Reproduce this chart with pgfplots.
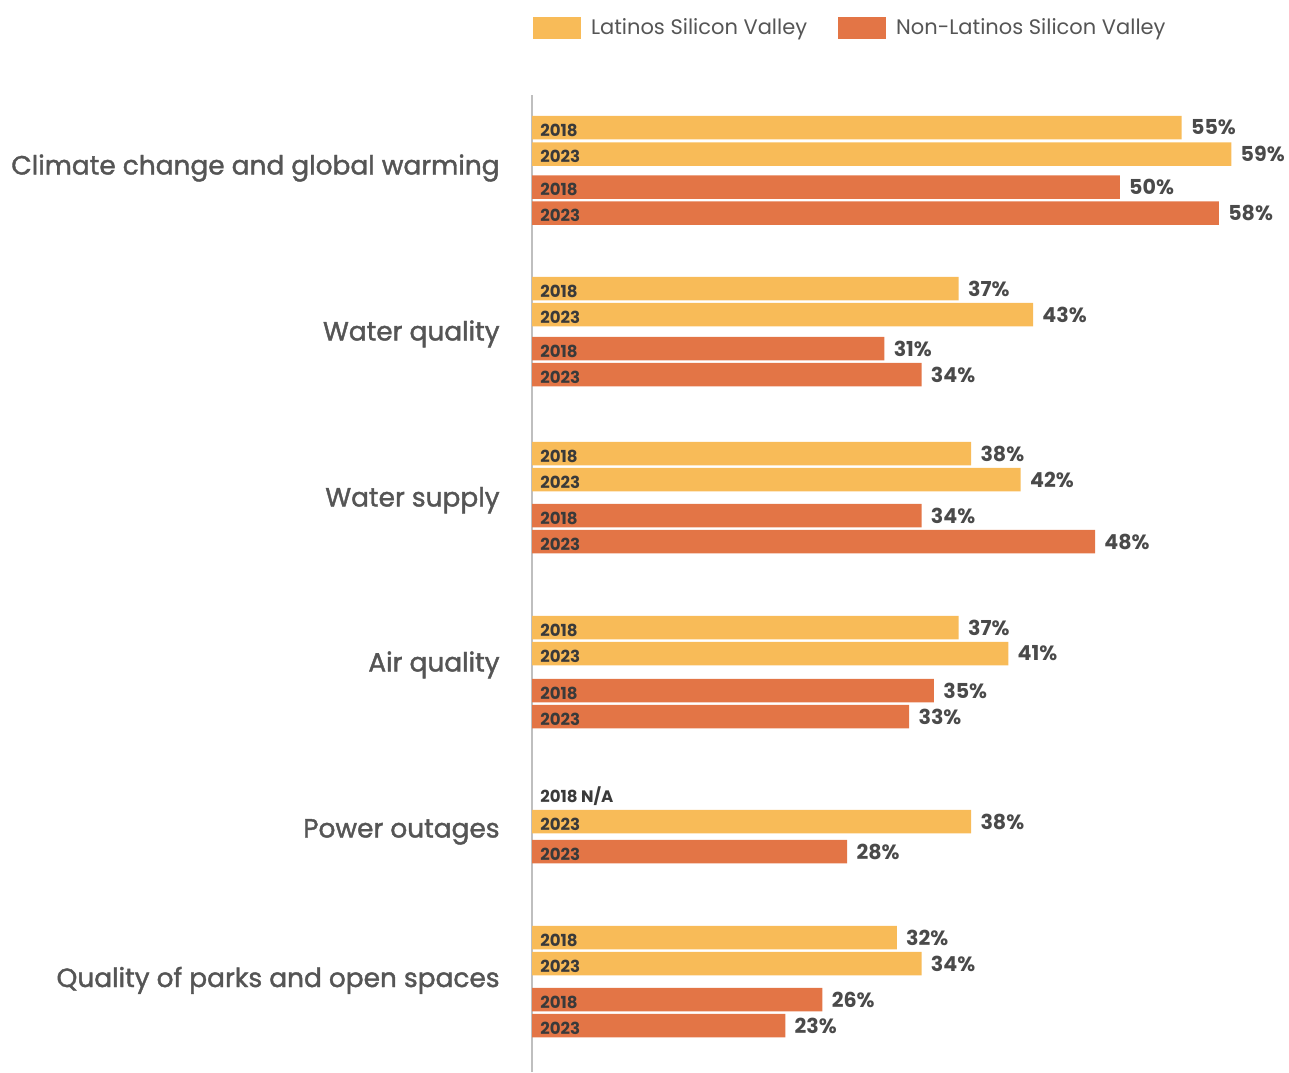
\documentclass[border=0pt]{standalone}
\usepackage{pgfplots}
\pgfplotsset{compat=1.18}
\usepackage{fontspec}
\setmainfont{Poppins}
\definecolor{lat}{HTML}{F8BB58}
\definecolor{non}{HTML}{E37546}
\definecolor{txt}{HTML}{4A4A4A}
\definecolor{yr}{HTML}{3A3A3A}
\definecolor{cat}{HTML}{555555}
\begin{document}
\begin{tikzpicture}
\begin{axis}[
 scale only axis, width=644.5pt, height=536pt,
 xmin=-42.938, xmax=61.098, ymin=0, ymax=1072, y dir=reverse,
 hide axis, clip=false,
 /pgf/number format/assume math mode=true,
 legend style={draw=none, fill=none, at={(0.4135,0.9738)}, anchor=west, legend columns=2,
   font=\fontsize{10.5pt}{12pt}\selectfont, text=cat, inner sep=0pt, outer sep=0pt,
   /tikz/every even column/.append style={column sep=13.5pt}},
 legend image code/.code={\fill[#1,draw=none] (0pt,-5.5pt) rectangle (24pt,5.5pt); \path (27pt,0pt);},
]
\addplot[color=black!25, line width=1pt, forget plot] coordinates {(0,95) (0,1072)};
\addplot[xbar, bar width=11.75pt, bar shift=0pt, fill=lat, draw=none,
  x filter/.expression={x-2.56},
  point meta=rawx, nodes near coords={\pgfmathprintnumber[fixed,precision=0]{\pgfplotspointmeta}\%},
  every node near coord/.append style={anchor=west, inner sep=0pt, xshift=4.5pt,
    font=\bfseries\fontsize{10.3pt}{11pt}\selectfont, text=txt}]
coordinates {
 (55,127.5) (59,154)
 (37,288.5) (43,314.5)
 (38,453.5) (42,479.5)
 (37,627.5) (41,653.5)
 (38,821.5)
 (32,937.5) (34,963.5)
};
\addlegendentry{Latinos Silicon Valley}
\addplot[xbar, bar width=11.75pt, bar shift=0pt, fill=non, draw=none,
  x filter/.expression={x-2.56},
  point meta=rawx, nodes near coords={\pgfmathprintnumber[fixed,precision=0]{\pgfplotspointmeta}\%},
  every node near coord/.append style={anchor=west, inner sep=0pt, xshift=4.5pt,
    font=\bfseries\fontsize{10.3pt}{11pt}\selectfont, text=txt}]
coordinates {
 (50,187) (58,213)
 (31,348.5) (34,374.5)
 (34,515.5) (48,541.5)
 (35,690.5) (33,716.5)
 (28,851.5)
 (26,999.5) (23,1025.5)
};
\addlegendentry{Non-Latinos Silicon Valley}
\addplot[only marks, mark=none, forget plot, point meta=explicit symbolic, nodes near coords,
  every node near coord/.append style={anchor=base west, inner sep=0pt, xshift=4pt,
    font=\bfseries\fontsize{8.3pt}{9pt}\selectfont, text=yr}]
coordinates {
 (0,136)[2018] (0,162.5)[2023] (0,195.5)[2018] (0,221.5)[2023]
 (0,297)[2018] (0,323)[2023] (0,357)[2018] (0,383)[2023]
 (0,462)[2018] (0,488)[2023] (0,524)[2018] (0,550)[2023]
 (0,636)[2018] (0,662)[2023] (0,699)[2018] (0,725)[2023]
 (0,802)[2018 N/A] (0,830)[2023] (0,860)[2023]
 (0,946)[2018] (0,972)[2023] (0,1008)[2018] (0,1034)[2023]
};
\begin{scope}[every node/.style={anchor=base east, font=\fontsize{13.2pt}{15pt}\selectfont\addfontfeature{FakeBold=1.5}, text=cat, inner sep=0pt}]
\node at (axis cs:-2.583,174.5) {Climate change and global warming};
\node at (axis cs:-2.583,340.5) {Water quality};
\node at (axis cs:-2.583,506.5) {Water supply};
\node at (axis cs:-2.583,671.5) {Air quality};
\node at (axis cs:-2.583,837.5) {Power outages};
\node at (axis cs:-2.583,987) {Quality of parks and open spaces};
\end{scope}
\end{axis}
\pgfresetboundingbox
\path[use as bounding box] (current axis.south west) rectangle (current axis.north east);
\end{tikzpicture}
\end{document}
